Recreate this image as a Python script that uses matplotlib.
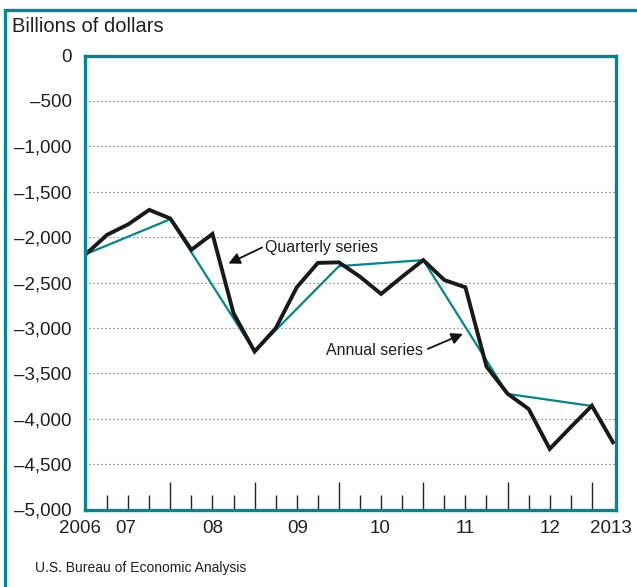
import matplotlib
matplotlib.use("Agg")
import matplotlib.pyplot as plt
from matplotlib.patches import Rectangle

plt.rcParams['font.family'] = ['Liberation Sans', 'DejaVu Sans']

# Quarterly series: 2006Q4 .. 2013Q1 (end-of-quarter positions)
quarterly = [-2187, -1975, -1860, -1700, -1795, -2140, -1965, -2839, -3260,
             -3004, -2553, -2284, -2278, -2436, -2626, -2436, -2253, -2473,
             -2553, -3425, -3725, -3893, -4333, -4092, -3857, -4260]
# Annual series: end of 2006 .. 2012
annual_idx = [0, 4, 8, 12, 16, 20, 24]
annual = [-2187, -1803, -3260, -2320, -2253, -3727, -3860]

year_labels = ['2006', '07', '08', '09', '10', '11', '12', '2013']
year_label_pos = [-0.3, 1.9, 6, 10.05, 13.95, 18, 22, 24.88]
y_ticks = [0, -500, -1000, -1500, -2000, -2500, -3000, -3500, -4000, -4500, -5000]
y_ticklabels = ['0', '\u2013500', '\u20131,000', '\u20131,500', '\u20132,000', '\u20132,500',
                '\u20133,000', '\u20133,500', '\u20134,000', '\u20134,500', '\u20135,000']

TEAL = '#00878f'
TXT = '#231f20'

fig = plt.figure(figsize=(6.37, 5.87), dpi=100)
ax = fig.add_axes([84.5/637, 1-509.5/587, (615.5-84.5)/637, (509.5-55.5)/587])

xq = list(range(len(quarterly)))
ax.plot(annual_idx, annual, color=TEAL, lw=1.6, zorder=3, solid_joinstyle='miter')
ax.plot(xq, quarterly, color='#1a1a1a', lw=2.8, zorder=4, solid_joinstyle='miter')

ax.set_xlim(-0.07, 25.12)
ax.set_ylim(-5000, 0)

for v in y_ticks[1:-1]:
    ax.axhline(v, color='#777777', lw=0.9, ls=(0, (1, 2.2)), zorder=1)

ax.set_yticks(y_ticks)
ax.set_yticklabels(y_ticklabels)
ax.tick_params(axis='y', length=0, pad=9, labelsize=13.5, labelcolor=TXT)

major = [4, 8, 12, 16, 20, 24]
minor = [i for i in range(1, 24) if i not in major]
ax.set_xticks(major)
ax.set_xticklabels([''] * len(major))
ax.set_xticks(minor, minor=True)
ax.tick_params(axis='x', which='major', direction='in', length=20.5, width=1.0, color='#222222')
ax.tick_params(axis='x', which='minor', direction='in', length=11, width=1.0, color='#222222')

for lab, pos in zip(year_labels, year_label_pos):
    ax.text(pos, -0.042, lab, transform=ax.get_xaxis_transform(), ha='center', va='center',
            fontsize=13.5, color=TXT)

for s in ax.spines.values():
    s.set_color(TEAL)
    s.set_linewidth(2.4)
    s.set_zorder(5)

# Annotations
ax.annotate('', xy=(6.76, -2291), xytext=(8.35, -2115),
            arrowprops=dict(arrowstyle='-|>', color='#111111', lw=1.3, mutation_scale=17,
                            shrinkA=0, shrinkB=0))
ax.text(8.5, -2110, 'Quarterly series', ha='left', va='center', fontsize=11.5, color=TXT,
        family=['Liberation Sans Narrow', 'Liberation Sans'])
ax.annotate('', xy=(17.88, -3066), xytext=(16.22, -3231),
            arrowprops=dict(arrowstyle='-|>', color='#111111', lw=1.3, mutation_scale=17,
                            shrinkA=0, shrinkB=0))
ax.text(16.0, -3253, 'Annual series', ha='right', va='center', fontsize=11.5, color=TXT,
        family=['Liberation Sans Narrow', 'Liberation Sans'])

fig.text(12/637, 1-27/587, 'Billions of dollars', ha='left', va='center', fontsize=14.5, color=TXT)
fig.text(35/637, 1-568/587, 'U.S. Bureau of Economic Analysis', ha='left', va='center',
         fontsize=10, color=TXT, family=['Liberation Sans Narrow', 'Liberation Sans'])

frame = Rectangle((5/637, -0.2), 2.0, 1.2 - 9.5/587, transform=fig.transFigure,
                  fill=False, edgecolor=TEAL, lw=2.4, clip_on=False)
fig.add_artist(frame)

fig.savefig('out.png', dpi=100)
